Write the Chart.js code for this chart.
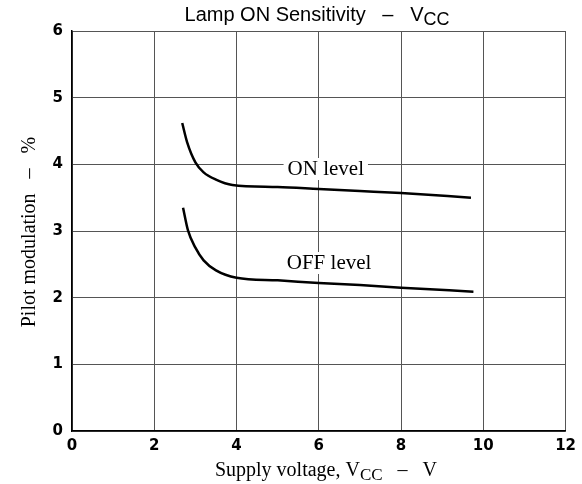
<!DOCTYPE html>
<html>
<head>
<meta charset="utf-8">
<script src="https://cdn.jsdelivr.net/npm/chart.js@4/dist/chart.umd.min.js"></script>
<style>
  html, body { margin: 0; padding: 0; background: #fff; }
  #wrap { width: 582px; height: 484px; }
</style>
</head>
<body>
<div id="wrap"><canvas id="chart" width="582" height="484"></canvas></div>
<script>
// Data
const onX = [2.68, 2.8, 3.0, 3.2, 3.5, 3.9, 5.0, 6.0, 7.0, 8.0, 9.7];
const onY = [4.62, 4.33, 4.03, 3.88, 3.77, 3.69, 3.66, 3.63, 3.60, 3.57, 3.50];
const offX = [2.70, 2.82, 3.0, 3.2, 3.5, 4.0, 5.0, 6.0, 7.0, 8.0, 9.76];
const offY = [3.35, 3.01, 2.75, 2.56, 2.41, 2.30, 2.26, 2.22, 2.19, 2.15, 2.09];
const xTicks = [0, 2, 4, 6, 8, 10, 12];
const yTicks = [0, 1, 2, 3, 4, 5, 6];
const curveLabels = ['ON level', 'OFF level'];
const labelX = [6.17, 6.25];
const labelY = [3.93, 2.52];

function toPoints(xs, ys) {
  return xs.map((x, i) => ({ x: x, y: ys[i] }));
}

const sansFont = '"Liberation Sans", Arial, sans-serif';
const serifFont = '"Liberation Serif", "Times New Roman", serif';
const tickFont = '"DejaVu Sans", sans-serif';

// draws text with a subscript part
function drawSub(ctx, parts, x, y, font, subFont, align) {
  // parts: [[text, isSub], ...]
  let total = 0;
  parts.forEach(p => { ctx.font = p[1] ? subFont : font; total += ctx.measureText(p[0]).width; });
  let cx = align === 'center' ? x - total / 2 : x;
  ctx.textAlign = 'left';
  ctx.textBaseline = 'alphabetic';
  parts.forEach(p => {
    ctx.font = p[1] ? subFont : font;
    ctx.fillText(p[0], cx, y + (p[1] ? 4 : 0));
    cx += ctx.measureText(p[0]).width;
  });
}

const textPlugin = {
  id: 'textPlugin',
  afterDatasetsDraw(chart) {
    const ctx = chart.ctx;
    const xs = chart.scales.x, ys = chart.scales.y;
    ctx.save();
    ctx.fillStyle = '#000';
    // curve labels with white background
    ctx.font = '21px ' + serifFont;
    curveLabels.forEach((t, i) => {
      const px = xs.getPixelForValue(labelX[i]);
      const py = ys.getPixelForValue(labelY[i]);
      const w = ctx.measureText(t).width;
      ctx.fillStyle = '#fff';
      ctx.fillRect(px - w / 2 - 4, py - 11, w + 8, 22);
      ctx.fillStyle = '#000';
      ctx.textAlign = 'center';
      ctx.textBaseline = 'middle';
      ctx.fillText(t, px, py);
    });
    // title
    drawSub(ctx, [['Lamp ON Sensitivity   \u2013   V', false], ['CC', true]],
      317, 21, '20px ' + sansFont, '18px ' + sansFont, 'center');
    // x axis title
    drawSub(ctx, [['Supply voltage, V', false], ['CC', true], ['   \u2013   V', false]],
      326, 476, '20px ' + serifFont, '17px ' + serifFont, 'center');
    // y axis title
    ctx.translate(30, 232);
    ctx.rotate(-Math.PI / 2);
    ctx.font = '20px ' + serifFont;
    ctx.textAlign = 'center';
    ctx.textBaseline = 'middle';
    ctx.fillText('Pilot modulation   \u2013   %', 0, 0);
    ctx.restore();
  }
};

new Chart(document.getElementById('chart'), {
  type: 'line',
  data: {
    datasets: [
      { label: 'ON level', data: toPoints(onX, onY) },
      { label: 'OFF level', data: toPoints(offX, offY) }
    ]
  },
  options: {
    responsive: false,
    animation: false,
    layout: { padding: { top: 31, right: 15, left: 0, bottom: 0 } },
    elements: {
      point: { radius: 0 },
      line: { borderColor: '#000', borderWidth: 2.5, cubicInterpolationMode: 'monotone', fill: false }
    },
    plugins: { legend: { display: false }, tooltip: { enabled: false } },
    scales: {
      x: {
        type: 'linear', min: 0, max: 12,
        afterBuildTicks: s => { s.ticks = xTicks.map(v => ({ value: v })); },
        afterFit: s => { s.height = 53; },
        grid: { color: '#555', lineWidth: 1, drawTicks: false },
        border: { color: '#000', width: 1.5 },
        ticks: { color: '#000', padding: 6, font: { family: tickFont, size: 15, weight: 'bold' } }
      },
      y: {
        type: 'linear', min: 0, max: 6,
        afterBuildTicks: s => { s.ticks = yTicks.map(v => ({ value: v })); },
        afterFit: s => { s.width = 72; },
        grid: { color: '#555', lineWidth: 1, drawTicks: false },
        border: { color: '#000', width: 1.5 },
        ticks: { color: '#000', padding: 9, font: { family: tickFont, size: 15, weight: 'bold' } }
      }
    }
  },
  plugins: [textPlugin]
});
</script>
</body>
</html>
